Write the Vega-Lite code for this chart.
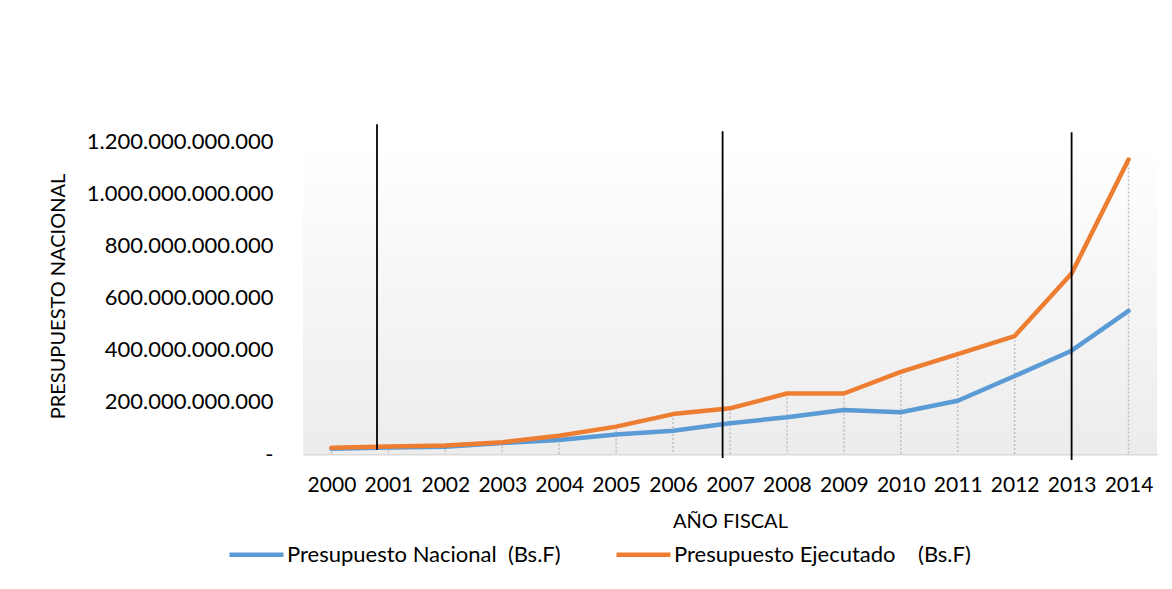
{
  "$schema": "https://vega.github.io/schema/vega-lite/v6.json",
  "width": 854,
  "height": 313,
  "autosize": {"type": "none"},
  "padding": {"left": 303, "top": 141, "right": 15, "bottom": 135},
  "background": "#ffffff",
  "config": {
    "font": "Lato",
    "view": {"stroke": null},
    "locale": {"number": {"decimal": ",", "thousands": ".", "grouping": [3], "currency": ["", ""]}},
    "axis": {"labelColor": "#000000", "titleColor": "#000000", "labelFont": "Lato", "titleFont": "Lato", "titleFontWeight": "normal"},
    "legend": {"labelColor": "#000000", "labelFont": "Lato"}
  },
  "datasets": {
    "presupuesto": [
      {"anio": 2000, "serie": "Presupuesto Nacional\u00a0\u00a0(Bs.F)", "valor": 20000000000},
      {"anio": 2001, "serie": "Presupuesto Nacional\u00a0\u00a0(Bs.F)", "valor": 25000000000},
      {"anio": 2002, "serie": "Presupuesto Nacional\u00a0\u00a0(Bs.F)", "valor": 28000000000},
      {"anio": 2003, "serie": "Presupuesto Nacional\u00a0\u00a0(Bs.F)", "valor": 42000000000},
      {"anio": 2004, "serie": "Presupuesto Nacional\u00a0\u00a0(Bs.F)", "valor": 54000000000},
      {"anio": 2005, "serie": "Presupuesto Nacional\u00a0\u00a0(Bs.F)", "valor": 75000000000},
      {"anio": 2006, "serie": "Presupuesto Nacional\u00a0\u00a0(Bs.F)", "valor": 89000000000},
      {"anio": 2007, "serie": "Presupuesto Nacional\u00a0\u00a0(Bs.F)", "valor": 118000000000},
      {"anio": 2008, "serie": "Presupuesto Nacional\u00a0\u00a0(Bs.F)", "valor": 141000000000},
      {"anio": 2009, "serie": "Presupuesto Nacional\u00a0\u00a0(Bs.F)", "valor": 169000000000},
      {"anio": 2010, "serie": "Presupuesto Nacional\u00a0\u00a0(Bs.F)", "valor": 160000000000},
      {"anio": 2011, "serie": "Presupuesto Nacional\u00a0\u00a0(Bs.F)", "valor": 204000000000},
      {"anio": 2012, "serie": "Presupuesto Nacional\u00a0\u00a0(Bs.F)", "valor": 299000000000},
      {"anio": 2013, "serie": "Presupuesto Nacional\u00a0\u00a0(Bs.F)", "valor": 396000000000},
      {"anio": 2014, "serie": "Presupuesto Nacional\u00a0\u00a0(Bs.F)", "valor": 549000000000},
      {"anio": 2000, "serie": "Presupuesto Ejecutado\u00a0\u00a0\u00a0\u00a0(Bs.F)", "valor": 24000000000},
      {"anio": 2001, "serie": "Presupuesto Ejecutado\u00a0\u00a0\u00a0\u00a0(Bs.F)", "valor": 29000000000},
      {"anio": 2002, "serie": "Presupuesto Ejecutado\u00a0\u00a0\u00a0\u00a0(Bs.F)", "valor": 33000000000},
      {"anio": 2003, "serie": "Presupuesto Ejecutado\u00a0\u00a0\u00a0\u00a0(Bs.F)", "valor": 45000000000},
      {"anio": 2004, "serie": "Presupuesto Ejecutado\u00a0\u00a0\u00a0\u00a0(Bs.F)", "valor": 70000000000},
      {"anio": 2005, "serie": "Presupuesto Ejecutado\u00a0\u00a0\u00a0\u00a0(Bs.F)", "valor": 105000000000},
      {"anio": 2006, "serie": "Presupuesto Ejecutado\u00a0\u00a0\u00a0\u00a0(Bs.F)", "valor": 153000000000},
      {"anio": 2007, "serie": "Presupuesto Ejecutado\u00a0\u00a0\u00a0\u00a0(Bs.F)", "valor": 175000000000},
      {"anio": 2008, "serie": "Presupuesto Ejecutado\u00a0\u00a0\u00a0\u00a0(Bs.F)", "valor": 232000000000},
      {"anio": 2009, "serie": "Presupuesto Ejecutado\u00a0\u00a0\u00a0\u00a0(Bs.F)", "valor": 232000000000},
      {"anio": 2010, "serie": "Presupuesto Ejecutado\u00a0\u00a0\u00a0\u00a0(Bs.F)", "valor": 315000000000},
      {"anio": 2011, "serie": "Presupuesto Ejecutado\u00a0\u00a0\u00a0\u00a0(Bs.F)", "valor": 383000000000},
      {"anio": 2012, "serie": "Presupuesto Ejecutado\u00a0\u00a0\u00a0\u00a0(Bs.F)", "valor": 452000000000},
      {"anio": 2013, "serie": "Presupuesto Ejecutado\u00a0\u00a0\u00a0\u00a0(Bs.F)", "valor": 692000000000},
      {"anio": 2014, "serie": "Presupuesto Ejecutado\u00a0\u00a0\u00a0\u00a0(Bs.F)", "valor": 1129000000000}
    ],
    "marcas": [
      {"anio": 2000.8, "desde": 15000000000, "hasta": 1264000000000},
      {"anio": 2006.87, "desde": -15000000000, "hasta": 1237000000000},
      {"anio": 2013.0, "desde": -23000000000, "hasta": 1234000000000}
    ],
    "fondo": [{"x0": 1999.5, "x1": 2014.5, "y0": 0, "y1": 1200000000000}]
  },
  "layer": [
    {
      "data": {"name": "fondo"},
      "mark": {"type": "rect", "fill": {"gradient": "linear", "x1": 0, "y1": 0, "x2": 0, "y2": 1, "stops": [{"offset": 0, "color": "#ffffff"}, {"offset": 1, "color": "#ececec"}]}},
      "encoding": {
        "x": {"field": "x0", "type": "quantitative", "scale": {"domain": [1999.5, 2014.5], "nice": false, "zero": false},
          "axis": {"values": [2000, 2001, 2002, 2003, 2004, 2005, 2006, 2007, 2008, 2009, 2010, 2011, 2012, 2013, 2014], "format": "d", "title": "AÑO FISCAL", "grid": false, "ticks": false, "domainColor": "#d9d9d9", "domainWidth": 2, "labelFontSize": 21, "labelPadding": 20, "labelFlush": false, "titleFontSize": 20, "titleY": 67, "titleBaseline": "middle"}},
        "x2": {"field": "x1"},
        "y": {"field": "y0", "type": "quantitative", "scale": {"domain": [0, 1200000000000], "nice": false},
          "axis": {"values": [0, 200000000000, 400000000000, 600000000000, 800000000000, 1000000000000, 1200000000000], "format": ",.0f", "labelExpr": "datum.value == 0 ? '-' : datum.label", "title": "PRESUPUESTO NACIONAL", "grid": false, "ticks": false, "domain": false, "labelFontSize": 22, "labelPadding": 30, "labelLimit": 400, "titleFontSize": 20, "titleX": -245, "titleY": 155, "titleAngle": -90, "titleAlign": "center", "titleBaseline": "middle"}},
        "y2": {"field": "y1"}
      }
    },
    {
      "data": {"name": "presupuesto"},
      "transform": [{"filter": "indexof(datum.serie, 'Ejecutado') >= 0"}],
      "mark": {"type": "rule", "color": "#bfbfbf", "strokeWidth": 1.5, "strokeDash": [2, 2]},
      "encoding": {
        "x": {"field": "anio", "type": "quantitative"},
        "y": {"field": "valor", "type": "quantitative"},
        "y2": {"datum": 0}
      }
    },
    {
      "data": {"name": "presupuesto"},
      "mark": {"type": "line", "strokeWidth": 4.5, "strokeCap": "round", "strokeJoin": "round"},
      "encoding": {
        "x": {"field": "anio", "type": "quantitative"},
        "y": {"field": "valor", "type": "quantitative"},
        "color": {"field": "serie", "type": "nominal",
          "scale": {"domain": ["Presupuesto Nacional\u00a0\u00a0(Bs.F)", "Presupuesto Ejecutado\u00a0\u00a0\u00a0\u00a0(Bs.F)"], "range": ["#5b9bd5", "#ed7d31"]},
          "legend": {"title": null, "orient": "none", "direction": "horizontal", "legendX": -76, "legendY": 384, "symbolType": "stroke", "symbolSize": 2916, "symbolStrokeWidth": 4.5, "labelFontSize": 22, "labelOffset": 1, "columnPadding": 46, "labelLimit": 400}}
      }
    },
    {
      "data": {"name": "marcas"},
      "mark": {"type": "rule", "color": "#000000", "strokeWidth": 1.8},
      "encoding": {
        "x": {"field": "anio", "type": "quantitative"},
        "y": {"field": "desde", "type": "quantitative"},
        "y2": {"field": "hasta"}
      }
    }
  ]
}
